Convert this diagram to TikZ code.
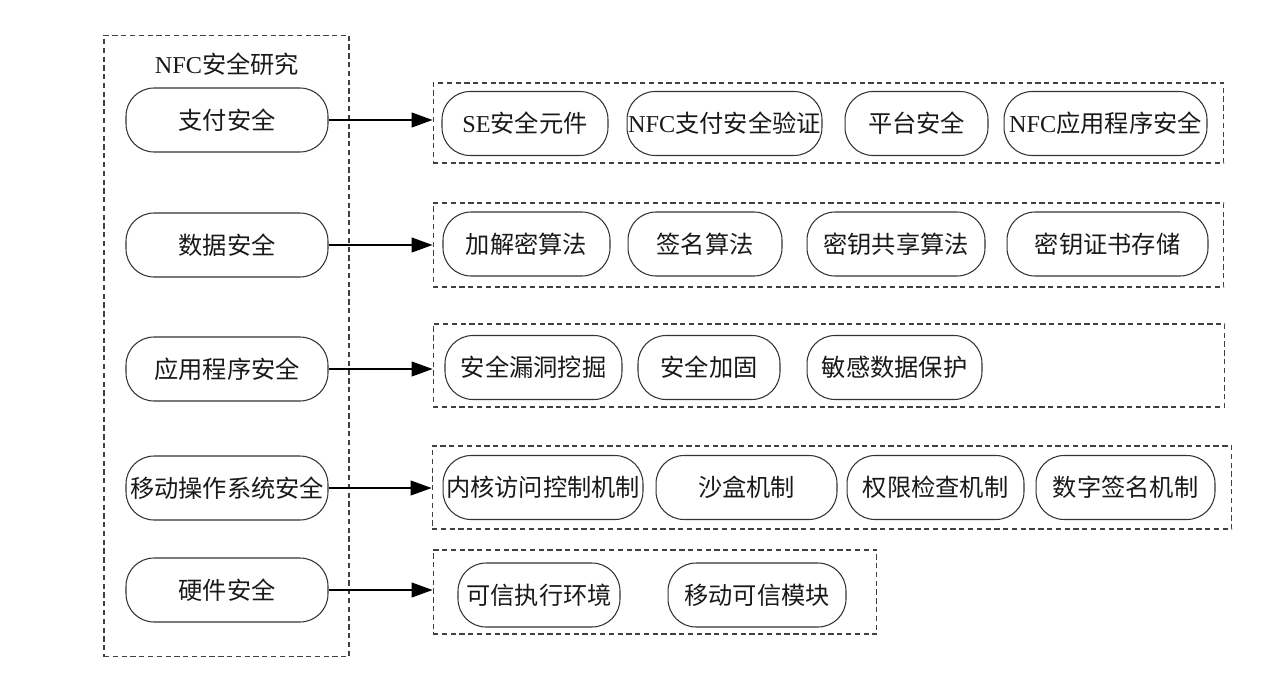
\documentclass[tikz,border=0pt]{standalone}
\usepackage{fontspec}
\setmainfont{Liberation Serif}
\newfontfamily\cjk{Noto Sans CJK SC}
\usetikzlibrary{arrows.meta}

\tikzset{
  pill/.style={draw=black!80, line width=0.6pt, rounded corners=0.56cm,
    minimum height=1.28cm, inner sep=0pt, text=black!90,
    font=\cjk\fontsize{13.8}{16}\selectfont},
  grp/.style={draw=black!75, line width=0.6pt, dash pattern=on 3pt off 2pt,
    inner sep=0pt},
  arr/.style={-{Triangle[length=0.42cm,width=0.3cm]}, line width=0.6pt, black}
}

\begin{document}
\begin{tikzpicture}[x=0.02cm,y=-0.02cm]
        \useasboundingbox (0,0) rectangle (1283,693);
        % outer frame and groups
        \node[grp, minimum width=4.9cm, minimum height=12.44cm] (research) at (226.5,346) {};
        \node[font=\cjk\fontsize{13.8}{16}\selectfont, text=black!90] (title) at (227,64) {{\rmfamily NFC}安全研究};
        \node[grp, minimum width=15.82cm, minimum height=1.6cm] (g1) at (828.5,123) {};
        \node[grp, minimum width=15.82cm, minimum height=1.68cm] (g2) at (828.5,245) {};
        \node[grp, minimum width=15.84cm, minimum height=1.66cm] (g3) at (829,365.5) {};
        \node[grp, minimum width=16cm, minimum height=1.66cm] (g4) at (832,487.5) {};
        \node[grp, minimum width=8.88cm, minimum height=1.68cm] (g5) at (655,592) {};
        % left column
        \node[pill, minimum width=4.04cm] (pay) at (227,120) {支付安全};
        \node[pill, minimum width=4.04cm] (data) at (227,245) {数据安全};
        \node[pill, minimum width=4.04cm] (app) at (227,369) {应用程序安全};
        \node[pill, minimum width=4.04cm] (os) at (227,488) {移动操作系统安全};
        \node[pill, minimum width=4.04cm] (hw) at (227,590) {硬件安全};
        % payment
        \node[pill, minimum width=3.32cm] (se) at (525,123.5) {{\rmfamily SE}安全元件};
        \node[pill, minimum width=3.9cm] (nfcpay) at (724.5,123.5) {{\rmfamily NFC}支付安全验证};
        \node[pill, minimum width=2.86cm] (plat) at (916.5,123.5) {平台安全};
        \node[pill, minimum width=4.06cm] (nfcapp) at (1105.5,123.5) {{\rmfamily NFC}应用程序安全};
        % data
        \node[pill, minimum width=3.34cm] (crypt) at (526.5,244) {加解密算法};
        \node[pill, minimum width=3.08cm] (sign) at (705,244) {签名算法};
        \node[pill, minimum width=3.56cm] (keyshare) at (896,244) {密钥共享算法};
        \node[pill, minimum width=4.02cm] (keystore) at (1107.5,244) {密钥证书存储};
        % application
        \node[pill, minimum width=3.54cm] (vuln) at (533.5,367.5) {安全漏洞挖掘};
        \node[pill, minimum width=2.84cm] (harden) at (709,367.5) {安全加固};
        \node[pill, minimum width=3.5cm] (privacy) at (894.5,367.5) {敏感数据保护};
        % operating system
        \node[pill, minimum width=4cm] (kernel) at (543,487.5) {内核访问控制机制};
        \node[pill, minimum width=3.62cm] (sandbox) at (746.5,487.5) {沙盒机制};
        \node[pill, minimum width=3.54cm] (perm) at (935.5,487.5) {权限检查机制};
        \node[pill, minimum width=3.58cm] (dsig) at (1125.5,487.5) {数字签名机制};
        % hardware
        \node[pill, minimum width=3.24cm] (tee) at (539,595) {可信执行环境};
        \node[pill, minimum width=3.56cm] (tpm) at (757,595) {移动可信模块};
        % arrows
        \draw[arr] (pay.east) -- (pay.east -| g1.west);
        \draw[arr] (data.east) -- (data.east -| g2.west);
        \draw[arr] (app.east) -- (app.east -| g3.west);
        \draw[arr] (os.east) -- (os.east -| g4.west);
        \draw[arr] (hw.east) -- (hw.east -| g5.west);
    \end{tikzpicture}
\end{document}
